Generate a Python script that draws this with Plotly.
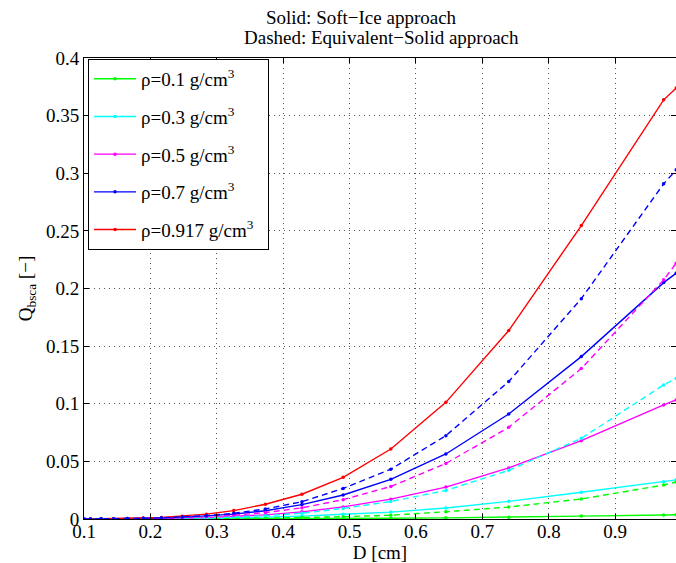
import plotly.graph_objects as go

# Particle diameter D [cm]
D = [0.1, 0.1097, 0.1258, 0.1446, 0.1655, 0.1893, 0.2167, 0.2481, 0.2843, 0.3255,
     0.3733, 0.4282, 0.4903, 0.5621, 0.645, 0.7397, 0.849, 0.973, 0.992]

# Soft-Ice approach (solid lines)
si_01 = [0.0, 0.0, 0.0, 0.0, 0.0, 0.00001, 0.00001, 0.00002, 0.00005, 0.00008,
         0.00013, 0.00023, 0.0004, 0.0006, 0.001, 0.0015, 0.0025, 0.0035, 0.0037]
si_03 = [0.00001, 0.00001, 0.00002, 0.00003, 0.00006, 0.0001, 0.00017, 0.0003, 0.0005, 0.0009,
         0.0015, 0.0025, 0.0041, 0.006, 0.0095, 0.0153, 0.0232, 0.0324, 0.034]
si_05 = [0.00002, 0.00003, 0.00005, 0.00008, 0.00014, 0.00024, 0.0004, 0.0007, 0.0012, 0.0021,
         0.0036, 0.0062, 0.0105, 0.0172, 0.0277, 0.0443, 0.068, 0.099, 0.1033]
si_07 = [0.00004, 0.00005, 0.00009, 0.00016, 0.00027, 0.00047, 0.0008, 0.0014, 0.0024, 0.0042,
         0.0072, 0.0125, 0.0208, 0.0344, 0.0564, 0.0911, 0.1409, 0.2051, 0.2133]
si_0917 = [0.00007, 0.0001, 0.00017, 0.0003, 0.0005, 0.0009, 0.0014, 0.0024, 0.0042, 0.0073,
           0.0128, 0.0215, 0.0362, 0.0607, 0.1012, 0.1635, 0.2546, 0.3637, 0.374]

# Equivalent-Solid approach (dashed lines)
es_01 = [0.00001, 0.00001, 0.00001, 0.00002, 0.00003, 0.00005, 0.00008, 0.00013, 0.00023, 0.0004,
         0.0007, 0.0012, 0.002, 0.0033, 0.0063, 0.0104, 0.0174, 0.0295, 0.0322]
es_03 = [0.00002, 0.00002, 0.00004, 0.00007, 0.00011, 0.0002, 0.00033, 0.0006, 0.001, 0.0017,
         0.0029, 0.005, 0.0092, 0.0152, 0.0248, 0.0422, 0.070, 0.1163, 0.122]
es_05 = [0.00003, 0.00004, 0.00007, 0.00013, 0.00021, 0.00037, 0.00063, 0.0011, 0.0019, 0.0033,
         0.0056, 0.0097, 0.0168, 0.0282, 0.0482, 0.0796, 0.1305, 0.2075, 0.222]
es_07 = [0.00004, 0.00006, 0.00011, 0.0002, 0.00033, 0.00057, 0.001, 0.0017, 0.0029, 0.005,
         0.0087, 0.015, 0.0265, 0.0432, 0.0723, 0.1193, 0.1912, 0.2908, 0.303]

labels = ["ρ=0.1 g/cm<sup>3</sup>", "ρ=0.3 g/cm<sup>3</sup>", "ρ=0.5 g/cm<sup>3</sup>",
          "ρ=0.7 g/cm<sup>3</sup>", "ρ=0.917 g/cm<sup>3</sup>\u00a0\u00a0"]
colors = ["#00ff00", "#00ffff", "#ff00ff", "#0000ff", "#ff0000"]
solid_series = [si_01, si_03, si_05, si_07, si_0917]
dashed_series = [es_01, es_03, es_05, es_07]

x_ticks = [0.1, 0.2, 0.3, 0.4, 0.5, 0.6, 0.7, 0.8, 0.9]
y_ticks = [0, 0.05, 0.1, 0.15, 0.2, 0.25, 0.3, 0.35, 0.4]
y_tick_text = ["0", "0.05", "0.1", "0.15", "0.2", "0.25", "0.3", "0.35", "0.4"]

FONT = "Liberation Serif"
FS = 19

fig = go.Figure()

for i, (ys, c, lab) in enumerate(zip(solid_series, colors, labels)):
    fig.add_trace(go.Scatter(
        x=D, y=ys, mode="lines+markers", name=lab,
        line=dict(color=c, width=1.4),
        marker=dict(color=c, size=3.5),
        legendgroup="g%d" % i, showlegend=True))

for ys, c in zip(dashed_series, colors):
    fig.add_trace(go.Scatter(
        x=D, y=ys, mode="lines+markers", showlegend=False,
        line=dict(color=c, width=1.4, dash="6px,4px"),
        marker=dict(color=c, size=3.5)))

axis_common = dict(
    showline=True, linecolor="black", linewidth=1, mirror="ticks",
    ticks="inside", ticklen=5, tickcolor="black",
    showgrid=True, gridcolor="#555555", gridwidth=1, griddash="1px,4px",
    zeroline=False,
    tickfont=dict(family=FONT, size=FS, color="black"),
)

fig.update_xaxes(range=[0.1, 0.9916], tickvals=x_ticks,
                 ticktext=[str(v) for v in x_ticks],
                 ticklabelstandoff=-5,
                 title=dict(text="D [cm]", font=dict(family=FONT, size=FS, color="black"),
                            standoff=0),
                 **axis_common)
fig.update_yaxes(range=[0, 0.4], tickvals=y_ticks, ticktext=y_tick_text,
                 title=dict(text="Q<sub>bsca</sub> [−]", font=dict(family=FONT, size=FS, color="black"),
                            standoff=8),
                 **axis_common)

fig.add_annotation(text="Solid: Soft−Ice approach", xref="paper", yref="paper",
                   x=0.468, y=1.0868, xanchor="center", yanchor="middle", showarrow=False,
                   font=dict(family=FONT, size=FS, color="black"))
fig.add_annotation(text="Dashed: Equivalent−Solid approach", xref="paper", yref="paper",
                   x=0.503, y=1.0434, xanchor="center", yanchor="middle", showarrow=False,
                   font=dict(family=FONT, size=FS, color="black"))

fig.update_layout(
    width=676, height=563,
    margin=dict(l=84, r=0, t=58, b=44, autoexpand=False),
    plot_bgcolor="white", paper_bgcolor="white",
    font=dict(family=FONT, size=FS, color="black"),
    legend=dict(x=0.0068, y=0.998, xanchor="left", yanchor="top",
                bordercolor="black", borderwidth=1, bgcolor="white",
                font=dict(family=FONT, size=FS, color="black"),
                itemwidth=42,
                tracegroupgap=10, traceorder="grouped"),
    showlegend=True,
)

# remove the default page margin so the 676x563 figure fills the window exactly
fig.write_html("out.html",
               config={"displayModeBar": False},
               post_script="document.body.style.margin='0';"
                           "document.body.style.overflow='hidden';")
